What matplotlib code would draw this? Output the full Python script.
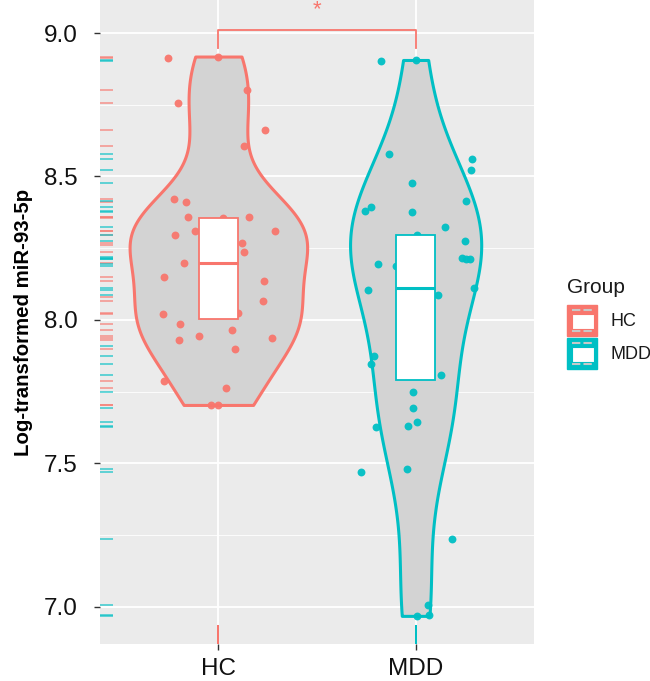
import numpy as np
import matplotlib.pyplot as plt
from matplotlib.patches import Rectangle
from matplotlib.lines import Line2D

plt.rcParams['font.family'] = ['Liberation Sans', 'DejaVu Sans']

# data
groups = ["HC", "MDD"]
colors = ["#F8766D", "#00BFC4"]

hc_vals = [8.912, 8.918, 8.80, 8.756, 8.662, 8.606, 8.422, 8.412, 8.359, 8.358,
           8.355, 8.31, 8.297, 8.31, 8.269, 8.238, 8.20, 8.151, 8.136, 8.065,
           8.024, 8.022, 7.986, 7.945, 7.965, 7.93, 7.937, 7.899, 7.789, 7.764,
           7.704, 7.704, 8.08, 8.26]
hc_jit = [-0.257, 0.0, 0.144, -0.203, 0.234, 0.130, -0.227, -0.166, -0.154, 0.156,
          0.022, -0.118, -0.220, 0.289, 0.118, 0.132, -0.173, -0.278, 0.230, 0.225,
          0.102, -0.281, -0.193, -0.100, 0.070, -0.198, 0.271, 0.086, -0.274, 0.037,
          -0.037, 0.0, 0.03, -0.04]

mdd_vals = [8.902, 8.906, 8.578, 8.56, 8.522, 8.477, 8.394, 8.379, 8.414, 8.376,
            8.324, 8.297, 8.276, 8.217, 8.213, 8.213, 8.195, 8.188, 8.103, 8.112,
            8.087, 7.875, 7.847, 7.807, 7.75, 7.692, 7.627, 7.632, 7.644, 7.482,
            7.469, 7.237, 7.006, 6.969, 6.971, 7.91, 8.22]
mdd_jit = [-0.174, 0.003, -0.135, 0.288, 0.281, -0.017, -0.228, -0.257, 0.257, -0.019,
           0.151, 0.007, 0.250, 0.235, 0.257, 0.274, -0.190, -0.102, -0.239, 0.294,
           0.113, -0.212, -0.225, 0.127, -0.015, -0.015, -0.200, -0.039, 0.005, -0.042,
           -0.278, 0.186, 0.064, 0.005, 0.066, 0.0, 0.02]

# box stats (q1, median, q3)
box_q1 = [8.003, 7.792]
box_med = [8.20, 8.112]
box_q3 = [8.355, 8.297]

all_vals = [np.array(hc_vals), np.array(mdd_vals)]
all_jit = [np.array(hc_jit), np.array(mdd_jit)]


def kde(v, n=512):
    # gaussian kde with R's bw.nrd0, trimmed to data range
    sd = v.std(ddof=1)
    iqr = np.subtract(*np.percentile(v, [75, 25]))
    bw = 0.9 * min(sd, iqr / 1.34) * len(v) ** (-0.2)
    y = np.linspace(v.min(), v.max(), n)
    d = np.exp(-0.5 * ((y[:, None] - v[None, :]) / bw) ** 2).sum(1)
    d = d / (len(v) * bw * np.sqrt(2 * np.pi))
    return y, d


dens = [kde(v) for v in all_vals]
dmax = max(d.max() for _, d in dens)

fig = plt.figure(figsize=(6.5, 6.81), dpi=100)
ax = fig.add_axes([100 / 650, 1 - 644 / 681, 434 / 650, 644 / 681])
ax.set_facecolor("#EBEBEB")
for s in ax.spines.values():
    s.set_visible(False)

for i, (y, d) in enumerate(dens):
    pos = i + 1
    w = d / dmax * 0.45
    ax.fill_betweenx(y, pos - w, pos + w, facecolor="#D3D3D3",
                     edgecolor=colors[i], linewidth=2.2, zorder=2)
    ax.scatter(pos + all_jit[i], all_vals[i], s=32, color=colors[i],
               alpha=0.95, linewidths=0, zorder=3)
    # rugs
    ax.hlines(all_vals[i], 0, 0.03, transform=ax.get_yaxis_transform(),
              color=colors[i], alpha=0.6, linewidth=1.4, zorder=3)
    ax.vlines([pos] * len(all_vals[i]), 0, 0.03, transform=ax.get_xaxis_transform(),
              color=colors[i], alpha=0.6, linewidth=1.4, zorder=3)

stats = []
for i in range(2):
    stats.append(dict(med=box_med[i], q1=box_q1[i], q3=box_q3[i],
                      whislo=box_q1[i], whishi=box_q3[i], fliers=[]))
bp = ax.bxp(stats, positions=[1, 2], widths=0.2, patch_artist=True,
            showcaps=False, showfliers=False, zorder=4)
for i in range(2):
    bp['boxes'][i].set_facecolor("white")
    bp['boxes'][i].set_edgecolor(colors[i])
    bp['boxes'][i].set_linewidth(1.3)
    bp['medians'][i].set_color(colors[i])
    bp['medians'][i].set_linewidth(2.2)
    for wl in bp['whiskers'][2 * i:2 * i + 2]:
        wl.set_visible(False)

# significance bracket
ax.plot([1, 1, 2, 2], [8.947, 9.01, 9.01, 8.947], color="#F8766D",
        linewidth=1.3, zorder=5, clip_on=False)
ax.text(1.5, 9.08, "*", color="#F8766D", ha="center", va="center",
        fontsize=16, zorder=5)

ax.set_xlim(0.4, 2.6)
ax.set_ylim(6.871, 9.115)
ax.set_xticks([1, 2])
ax.set_xticklabels(groups)
ax.set_yticks([7.0, 7.5, 8.0, 8.5, 9.0])
ax.set_yticks([7.25, 7.75, 8.25, 8.75], minor=True)
ax.tick_params(axis="both", which="major", length=4, width=1, color="#333333",
               labelsize=17.5, labelcolor="#111111")
ax.tick_params(axis="y", which="major", pad=12)
ax.tick_params(axis="x", which="major", pad=6)
ax.tick_params(axis="y", which="minor", length=0)
ax.grid(which="major", color="white", linewidth=1.3, zorder=0)
ax.grid(which="minor", axis="y", color="white", linewidth=0.6, zorder=0)
ax.set_axisbelow(True)
ax.set_ylabel("Log-transformed miR-93-5p", fontsize=14.7, fontweight="bold")
ax.yaxis.set_label_coords(-67 / 434, 0.5)

# legend drawn in pixel positions
def px(x, y):
    return x / 650, 1 - y / 681

fig.text(*px(567, 288), "Group", fontsize=15, va="center", ha="left",
         color="#1A1A1A")
for i, g in enumerate(groups):
    top = 305 + i * 33
    x0, y0 = px(567, top + 31)
    fig.add_artist(Rectangle((x0, y0), 30 / 650, 31 / 681,
                             transform=fig.transFigure, facecolor=colors[i],
                             edgecolor=colors[i]))
    xw, yw = px(571.5, top + 23.5)
    fig.add_artist(Rectangle((xw, yw), 22.5 / 650, 15 / 681,
                             transform=fig.transFigure, facecolor="white",
                             edgecolor=colors[i], linewidth=0.8))
    for yy in (top + 5, top + 26):
        xa, ya = px(571.5, yy)
        xb, _ = px(594, yy)
        fig.add_artist(Line2D([xa, xb], [ya, ya], transform=fig.transFigure,
                              color="#C8C8C8", linewidth=1.5,
                              linestyle=(0, (4, 1.5))))
    fig.text(*px(610, top + 16), g, fontsize=13, va="center", ha="left",
             color="#1A1A1A")

fig.savefig("out.png", dpi=100)
